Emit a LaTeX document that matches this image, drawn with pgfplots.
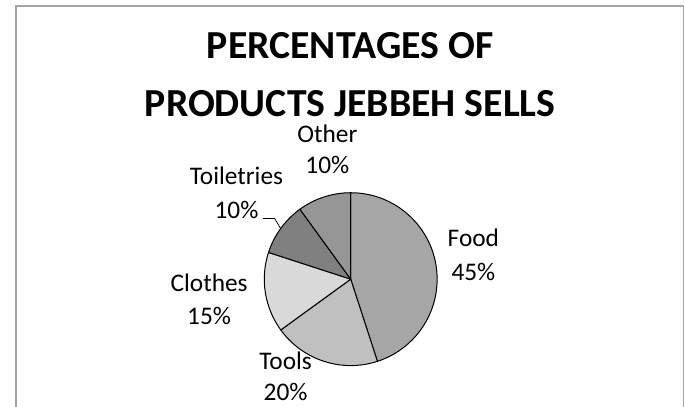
\documentclass[border=0pt]{standalone}
\usepackage{pgfplots}
\usepackage{pgfplotstable}
\pgfplotsset{compat=1.18}
\usepackage{fontspec}
\setmainfont{Carlito}
\definecolor{slice0}{HTML}{A6A6A6}
\definecolor{slice1}{HTML}{C0C0C0}
\definecolor{slice2}{HTML}{D9D9D9}
\definecolor{slice3}{HTML}{808080}
\definecolor{slice4}{HTML}{969696}
\definecolor{framegray}{HTML}{A6A6A6}
\pgfplotstableread{
name pct
Food 45
Tools 20
Clothes 15
Toiletries 10
Other 10
}\piedata
\begin{document}
\gdef\curang{90}
\pgfplotsinvokeforeach{0,...,4}{%
  \pgfplotstablegetelem{#1}{pct}\of\piedata
  \pgfmathsetmacro\tmpend{\curang-3.6*\pgfplotsretval}%
  \expandafter\xdef\csname sA#1\endcsname{\curang}%
  \expandafter\xdef\csname eA#1\endcsname{\tmpend}%
  \xdef\curang{\tmpend}%
}
\begin{tikzpicture}
\useasboundingbox (0,0) rectangle (685pt,409pt);
\begin{axis}[
  at={(0,0)}, anchor=origin,
  x=1pt, y=1pt,
  xmin=0, xmax=685, ymin=0, ymax=409,
  hide axis, clip=false,
]
\draw[framegray, line width=1.5pt] (axis cs:11.5,-10) -- (axis cs:11.5,403) -- (axis cs:683.5,403) -- (axis cs:683.5,-10);
\pgfplotsinvokeforeach{0,...,4}{%
  \edef\temp{\noexpand\filldraw[fill=slice#1, draw=black, line width=1pt, line join=round]
    (axis cs:348.5,128) -- ([shift={(\csname sA#1\endcsname:87pt)}]axis cs:348.5,128)
    arc[start angle=\csname sA#1\endcsname, end angle=\csname eA#1\endcsname, radius=87pt] -- cycle;}%
  \temp
}
% title
\tikzset{ttl/.style={anchor=base, font=\fontsize{40}{48}\selectfont\bfseries, inner sep=0pt, text depth=0pt}}
\node[ttl] at (axis cs:348,350) {PERCENTAGES OF};
\node[ttl] at (axis cs:348,292) {PRODUCTS JEBBEH SELLS};
% labels
\tikzset{lbl/.style={anchor=base, font=\fontsize{25.5}{30}\selectfont, inner sep=0pt}}
\node[lbl] at (axis cs:472,161) {Food};
\node[lbl] at (axis cs:472,127) {45\%};
\node[lbl] at (axis cs:283,37) {Tools};
\node[lbl] at (axis cs:283,6) {20\%};
\node[lbl] at (axis cs:206,116) {Clothes};
\node[lbl] at (axis cs:206,82) {15\%};
\node[lbl] at (axis cs:233.5,223) {Toiletries};
\node[lbl] at (axis cs:233.5,189) {10\%};
\node[lbl] at (axis cs:325,266) {Other};
\node[lbl] at (axis cs:325,234) {10\%};
\draw[black, line width=0.8pt] (axis cs:260,189) -- (axis cs:272,189) -- (axis cs:278,179);
\end{axis}
\end{tikzpicture}
\end{document}
